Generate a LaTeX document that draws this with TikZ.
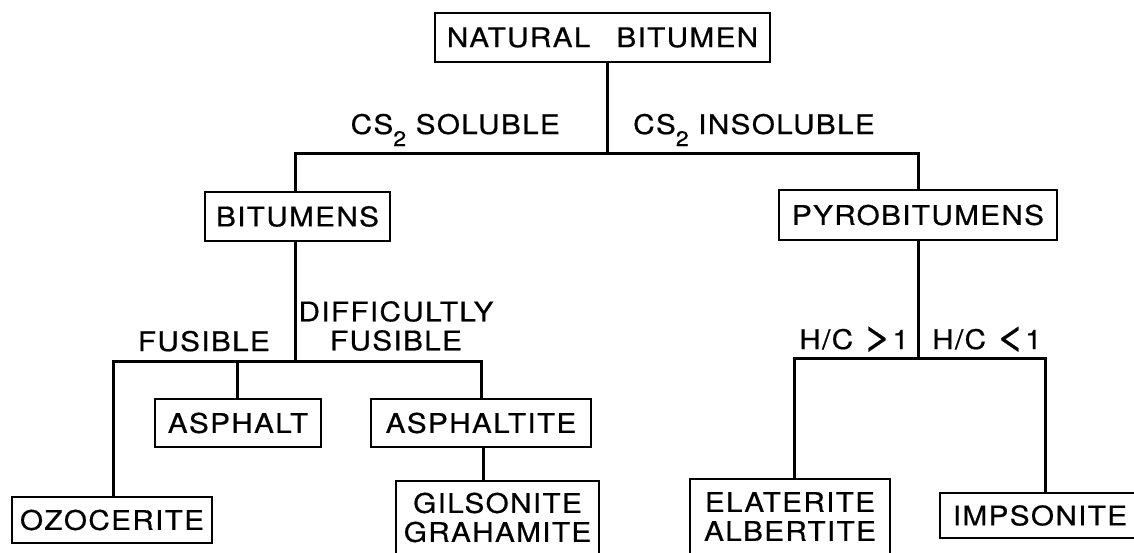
\documentclass[tikz,border=0pt]{standalone}
\usepackage{fontspec}
\setmainfont[FakeStretch=1.1,LetterSpace=5,FakeBold=0.6]{TeX Gyre Heros}
\newcommand\dgfont{\fontsize{27}{29}\selectfont}
\newcommand\subtwo{\raisebox{-12pt}{\fontsize{21}{22}\selectfont 2}}
\newcommand\gtsign{\scalebox{1.7}[1.45]{>}}
\newcommand\ltsign{\scalebox{1.7}[1.45]{<}}
\begin{document}
\begin{tikzpicture}[x=1pt,y=-1pt,
  box/.style={draw, line width=2.8pt, inner sep=0pt, align=center, font=\dgfont},
  link/.style={line width=3pt, line join=miter},
  lab/.style={inner sep=0pt, font=\dgfont}]
\useasboundingbox (0,0) rectangle (1134,552);
\clip (0,0) rectangle (1134,552);
\fill[white] (0,0) rectangle (1134,552);
% boxes
\node[box, minimum width=335pt, minimum height=49pt] (nb) at (602.5,37.5) {NATURAL\hspace{26pt}BITUMEN};
\node[box, minimum width=185pt, minimum height=49pt] (bit) at (297.5,216.5) {BITUMENS};
\node[box, minimum width=278pt, minimum height=50pt] (pyro) at (918,215) {PYROBITUMENS};
\node[box, minimum width=166pt, minimum height=48pt] (asph) at (238,423) {ASPHALT};
\node[box, minimum width=220pt, minimum height=48pt] (asphtite) at (481,423) {ASPHALTITE};
\node[box, minimum width=200pt, minimum height=46pt] (ozo) at (112,520) {OZOCERITE};
\node[box, minimum width=203pt, minimum height=73pt] (gil) at (497.5,517.5) {GILSONITE\\GRAHAMITE};
\node[box, minimum width=200pt, minimum height=75pt] (ela) at (790,516.5) {ELATERITE\\ALBERTITE};
\node[box, minimum width=200pt, minimum height=45pt] (imp) at (1040,515.5) {IMPSONITE};
% junctions
\coordinate (t) at (607,153);
\coordinate (tl) at (295,153);
\coordinate (tr) at (918,153);
\coordinate (b) at (295,361);
\coordinate (bl) at (113,361);
\coordinate (bm) at (237,361);
\coordinate (br) at (481,361);
\coordinate (g) at (483,450);
\coordinate (p) at (918,358);
\coordinate (pl) at (794,358);
\coordinate (pr) at (1045,358);
% connectors
\draw[link] (nb.south -| t) -- (t);
\draw[link] (bit.north -| tl) -- (tl) -- (tr) -- (pyro.north -| tr);
\draw[link] (bit.south -| b) -- (b);
\draw[link] (ozo.north -| bl) -- (bl) -- (br) -- (asphtite.north -| br);
\draw[link] (bm) -- (asph.north -| bm);
\draw[link] (asphtite.south -| g) -- (gil.north -| g);
\draw[link] (pyro.south -| p) -- (p);
\draw[link] (ela.north -| pl) -- (pl) -- (pr) -- (imp.north -| pr);
% labels
\node[lab, anchor=base east] (sol) at (560,134) {CS\subtwo\ SOLUBLE};
\node[lab, anchor=base west] (insol) at (633,134) {CS\subtwo\ INSOLUBLE};
\node[lab, anchor=base east] (fus) at (270,351) {FUSIBLE};
\node[lab, anchor=south, align=center] (dfus) at (396,351) {DIFFICULTLY\\FUSIBLE};
\node[lab, anchor=base east] (hcg) at (909,349) {H/C \gtsign1};
\node[lab, anchor=base west] (hcl) at (932,349) {H/C \ltsign1};
\end{tikzpicture}
\end{document}
